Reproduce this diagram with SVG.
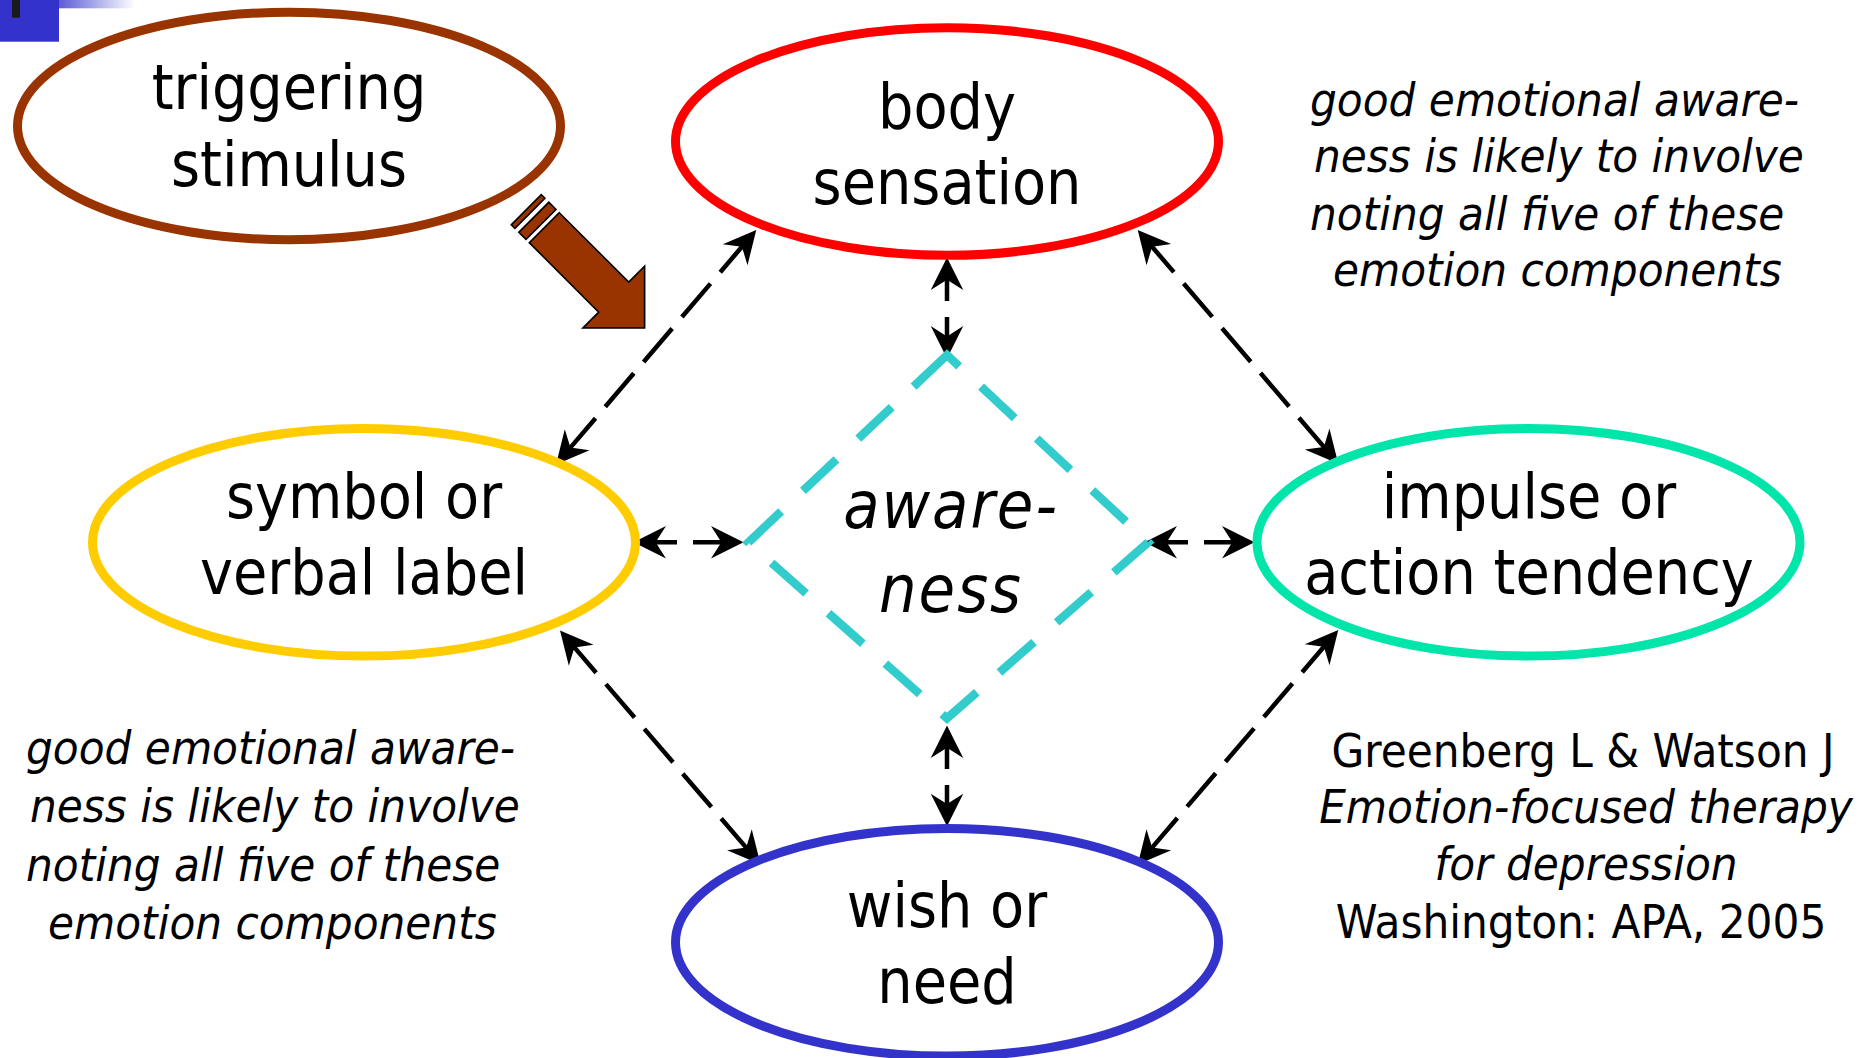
<svg xmlns="http://www.w3.org/2000/svg" width="1871" height="1058" viewBox="0 0 1871 1058">
<style>
  .lbl { font-family: "DejaVu Sans Condensed", "DejaVu Sans", sans-serif; font-stretch: condensed; font-size: 62px; fill: #000; text-anchor: middle; }
  .aw { font-size: 66px; letter-spacing: 2px; }
  .note { font-family: "DejaVu Sans Condensed", "DejaVu Sans", sans-serif; font-stretch: condensed; font-size: 47px; fill: #000; }
  .it { font-style: italic; }
  .node { fill: #fff; stroke-width: 9; }
  .conn { fill: none; stroke: #000; stroke-width: 4.5; marker-start: url(#head); marker-end: url(#head); }
  .short { stroke-dasharray: 40 16; stroke-dashoffset: 14; }
  .diag { stroke-dasharray: 44 15; stroke-dashoffset: 6; }
</style>
<defs>
  <marker id="head" markerUnits="userSpaceOnUse" markerWidth="40" markerHeight="40" refX="0" refY="0" viewBox="-15 -15 32 30" orient="auto-start-reverse" overflow="visible">
    <path d="M14,0 L-12,-13 L-3.7,0 L-12,13 Z" fill="#000"/>
  </marker>
  <linearGradient id="bar" x1="0" y1="0" x2="1" y2="0">
    <stop offset="0" stop-color="#3333CC"/>
    <stop offset="1" stop-color="#FFFFFF"/>
  </linearGradient>
</defs>
<rect width="1871" height="1058" fill="#fff"/>

<g id="corner">
  <rect x="40" y="0" width="95" height="8.3" fill="url(#bar)"/>
  <rect x="0" y="0" width="59" height="41.7" fill="#3333CC"/>
  <rect x="12" y="0" width="8" height="17.7" fill="#1a1a1a"/>
</g>

<g id="connectors">
  <line class="conn diag" x1="744.9" y1="243.3" x2="567.4" y2="451.1"/>
  <line class="conn diag" x1="1149.1" y1="243.3" x2="1326.9" y2="450.4"/>
  <line class="conn short" x1="947" y1="275" x2="947" y2="341"/>
  <line class="conn short" x1="651" y1="542.3" x2="726" y2="542.3"/>
  <line class="conn short" x1="1162" y1="542.3" x2="1237" y2="542.3"/>
  <line class="conn short" x1="947" y1="743" x2="947" y2="808.7"/>
  <line class="conn diag" x1="571.4" y1="643.9" x2="749.2" y2="851.1"/>
  <line class="conn diag" x1="1326.9" y1="643.3" x2="1149.1" y2="851.1"/>
</g>

<g id="trigger-arrow" transform="translate(544.3,227.7) rotate(45)" fill="#993300" stroke="#000" stroke-width="1.6" stroke-linejoin="miter">
  <rect x="-25.5" y="-21.2" width="5.2" height="42.4"/>
  <rect x="-14.8" y="-21.2" width="10.1" height="42.4"/>
  <polygon points="0,-21.2 98.2,-21.2 98.2,-43.7 141.9,0 98.2,43.7 98.2,21.2 0,21.2"/>
</g>

<g id="triggering-stimulus">
  <ellipse class="node" cx="289" cy="126" rx="271.5" ry="113.8" stroke="#993300"/>
  <text class="lbl" x="289" y="109">triggering</text>
  <text class="lbl" x="289" y="186">stimulus</text>
</g>

<g id="body-sensation">
  <ellipse class="node" cx="947" cy="141.5" rx="271.5" ry="113.8" stroke="#FF0000"/>
  <text class="lbl" x="947" y="128">body</text>
  <text class="lbl" x="947" y="204">sensation</text>
</g>

<g id="symbol-label">
  <ellipse class="node" cx="364" cy="542.3" rx="271.5" ry="113.8" stroke="#FFCC00"/>
  <text class="lbl" x="364" y="518">symbol or</text>
  <text class="lbl" x="364" y="594">verbal label</text>
</g>

<g id="impulse-action">
  <ellipse class="node" cx="1528.5" cy="542.3" rx="271.5" ry="113.8" stroke="#00E5AA"/>
  <text class="lbl" x="1529" y="518">impulse or</text>
  <text class="lbl" x="1529" y="594">action tendency</text>
</g>

<g id="wish-need">
  <ellipse class="node" cx="947" cy="942.3" rx="271.5" ry="113.8" stroke="#3333CC"/>
  <text class="lbl" x="947" y="927">wish or</text>
  <text class="lbl" x="947" y="1003">need</text>
</g>

<g id="awareness">
  <path d="M947,355 L748.4,542.3 L947,718.3 L1148.2,542.3 Z" fill="none" stroke="#33CCCC" stroke-width="8.5" stroke-dasharray="46 30"/>
  <text class="lbl it aw" x="951" y="528">aware-</text>
  <text class="lbl it aw" x="951" y="612">ness</text>
</g>

<g id="note-top-right" class="note it">
  <text x="1310" y="116">good emotional aware-</text>
  <text x="1314" y="172">ness is likely to involve</text>
  <text x="1310" y="230">noting all five of these</text>
  <text x="1333" y="286">emotion components</text>
</g>

<g id="note-bottom-left" class="note it">
  <text x="26" y="764">good emotional aware-</text>
  <text x="30" y="822">ness is likely to involve</text>
  <text x="26" y="881">noting all five of these</text>
  <text x="48" y="939">emotion components</text>
</g>

<g id="citation" class="note" text-anchor="middle">
  <text x="1583" y="767">Greenberg L &amp; Watson J</text>
  <text class="it" x="1586" y="823">Emotion-focused therapy</text>
  <text class="it" x="1586" y="880">for depression</text>
  <text x="1581" y="938">Washington: APA, 2005</text>
</g>
</svg>
